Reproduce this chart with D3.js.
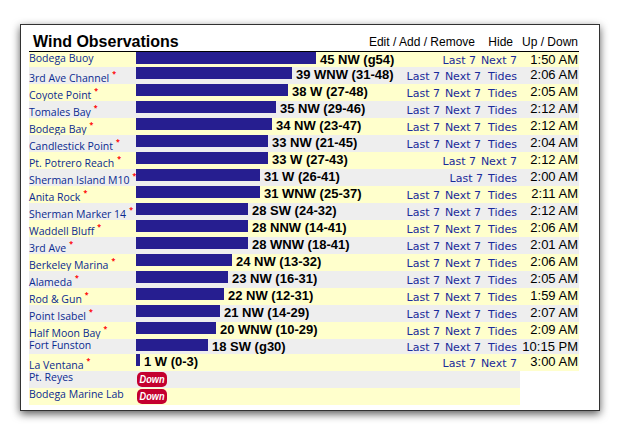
<!DOCTYPE html>
<html>
<head>
<meta charset="utf-8">
<script src="https://cdn.jsdelivr.net/npm/d3@7/dist/d3.min.js"></script>
<style>
  html, body { margin: 0; padding: 0; background: #fff; }
  svg { display: block; }
  text { font-family: "Liberation Sans", Arial, sans-serif; }
  .link { font-family: "DejaVu Sans", sans-serif; }
  .name { font-family: "Open Sans", sans-serif; }
</style>
</head>
<body>
<div id="chart"></div>
<script>
const stations = ['Bodega Buoy', '3rd Ave Channel', 'Coyote Point', 'Tomales Bay', 'Bodega Bay', 'Candlestick Point',
  'Pt. Potrero Reach', 'Sherman Island M10', 'Anita Rock', 'Sherman Marker 14', 'Waddell Bluff', '3rd Ave',
  'Berkeley Marina', 'Alameda', 'Rod & Gun', 'Point Isabel', 'Half Moon Bay', 'Fort Funston', 'La Ventana',
  'Pt. Reyes', 'Bodega Marine Lab'];
const starred = [0, 1, 1, 1, 1, 1, 1, 1, 1, 1, 1, 1, 1, 1, 1, 1, 1, 0, 1, 0, 0];
const speeds = [45, 39, 38, 35, 34, 33, 33, 31, 31, 28, 28, 28, 24, 23, 22, 21, 20, 18, 1, null, null];
const directions = ['NW', 'WNW', 'W', 'NW', 'NW', 'NW', 'W', 'W', 'WNW', 'SW', 'NNW', 'WNW', 'NW', 'NW', 'NW', 'NW', 'WNW', 'SW', 'W', null, null];
const ranges = ['g54', '31-48', '27-48', '29-46', '23-47', '21-45', '27-43', '26-41', '25-37', '24-32', '14-41', '18-41',
  '13-32', '16-31', '12-31', '14-29', '10-29', 'g30', '0-3', null, null];
const linkSets = ['LN', 'LNT', 'LNT', 'LNT', 'LNT', 'LNT', 'LN', 'LT', 'LNT', 'LNT', 'LNT', 'LNT', 'LNT', 'LNT', 'LNT', 'LNT', 'LNT', 'LNT', 'LN', '', ''];
const times = ['1:50 AM', '2:06 AM', '2:05 AM', '2:12 AM', '2:12 AM', '2:04 AM', '2:12 AM', '2:00 AM', '2:11 AM', '2:12 AM',
  '2:06 AM', '2:01 AM', '2:06 AM', '2:05 AM', '1:59 AM', '2:07 AM', '2:09 AM', '10:15 PM', '3:00 AM', null, null];

const width = 620, height = 436;
const svg = d3.select('#chart').append('svg').attr('width', width).attr('height', height);

// Drop shadow for the window frame
const shadow = svg.append('defs').append('filter').attr('id', 'shadow')
  .attr('x', '-5%').attr('y', '-5%').attr('width', '110%').attr('height', '110%');
shadow.append('feDropShadow').attr('dx', 0).attr('dy', 3).attr('stdDeviation', 4)
  .attr('flood-color', '#000').attr('flood-opacity', 0.65);

svg.append('rect').attr('x', 20.5).attr('y', 24.5).attr('width', 579).attr('height', 386)
  .attr('fill', '#fff').attr('stroke', '#333').attr('filter', 'url(#shadow)');

// Rows with a star or a badge are a bit taller
const rowHeight = i => (starred[i] || speeds[i] === null) ? 17 : 15;
const tableTop = 52;
const rowTops = stations.map((d, i) => tableTop + d3.sum(stations.slice(0, i), (s, j) => rowHeight(j)));

const x = d3.scaleLinear().domain([0, 45]).range([136, 316]);

// Header
svg.append('text').attr('x', 33).attr('y', 47).attr('font-size', 16).attr('font-weight', 'bold').text('Wind Observations');
const headers = [['Edit / Add / Remove', 475], ['Hide', 513], ['Up / Down', 578]];
svg.selectAll('.head').data(headers).enter().append('text').attr('class', 'head')
  .attr('x', d => d[1]).attr('y', 46).attr('font-size', 12).attr('text-anchor', 'end').text(d => d[0]);
svg.append('line').attr('x1', 29).attr('x2', 579).attr('y1', 51.5).attr('y2', 51.5).attr('stroke', '#000');

const rows = svg.selectAll('.row').data(stations).enter().append('g').attr('class', 'row')
  .attr('transform', (d, i) => `translate(0,${rowTops[i]})`);

// Background stripes, the down stations stop short of the time column
rows.append('rect').attr('x', 29)
  .attr('width', (d, i) => speeds[i] === null ? 491 : 550)
  .attr('height', (d, i) => rowHeight(i))
  .attr('fill', (d, i) => i % 2 ? '#eeeeee' : '#ffffcc');

// Station names
const names = rows.append('text').attr('class', 'name').attr('x', 29)
  .attr('y', (d, i) => starred[i] ? 15 : 10).attr('font-size', 10.5).attr('fill', '#0a2a90');
names.append('tspan').text(d => d);
names.filter((d, i) => starred[i]).append('tspan')
  .attr('dx', 3).attr('dy', -6.5).attr('fill', '#ff0000').attr('font-size', 7).attr('font-weight', 'bold').text('*');

// Bars and labels
const live = rows.filter((d, i) => speeds[i] !== null);
live.append('rect').attr('x', x(0)).attr('y', 0)
  .attr('width', (d, i) => x(speeds[i]) - x(0)).attr('height', 12).attr('fill', '#261e90');
live.append('text').attr('x', (d, i) => x(speeds[i]) + 4).attr('y', 12)
  .attr('font-size', 13).attr('font-weight', 'bold')
  .text((d, i) => `${speeds[i]} ${directions[i]} (${ranges[i]})`);

// Links, laid out from the right edge
const linkInfo = { L: ['Last 7', 33, 4], N: ['Next 7', 37, 6], T: ['Tides', 30, 0] };
live.each(function (d, i) {
  let right = 517;
  const keys = linkSets[i].split('').reverse();
  keys.forEach((k, n) => {
    const info = linkInfo[k];
    if (n > 0) right -= info[2];
    d3.select(this).append('text').attr('class', 'link').attr('x', right)
      .attr('y', starred[i] ? 13 : 12).attr('font-size', 11).attr('text-anchor', 'end')
      .attr('fill', '#1a2a9a').text(info[0]);
    right -= info[1];
  });
});

// Time of the reading
live.append('text').attr('x', 578).attr('y', 12).attr('font-size', 13).attr('text-anchor', 'end')
  .text((d, i) => times[i]);

// Down badges
const down = rows.filter((d, i) => speeds[i] === null);
down.append('rect').attr('x', 137).attr('y', 1).attr('width', 30).attr('height', 15).attr('rx', 5)
  .attr('fill', '#c4002e');
down.append('text').attr('x', 152).attr('y', 12).attr('text-anchor', 'middle').attr('fill', '#fff')
  .attr('font-size', 11).attr('font-weight', 'bold').attr('font-style', 'italic')
  .attr('textLength', 25).attr('lengthAdjust', 'spacingAndGlyphs').text('Down');
</script>
</body>
</html>
